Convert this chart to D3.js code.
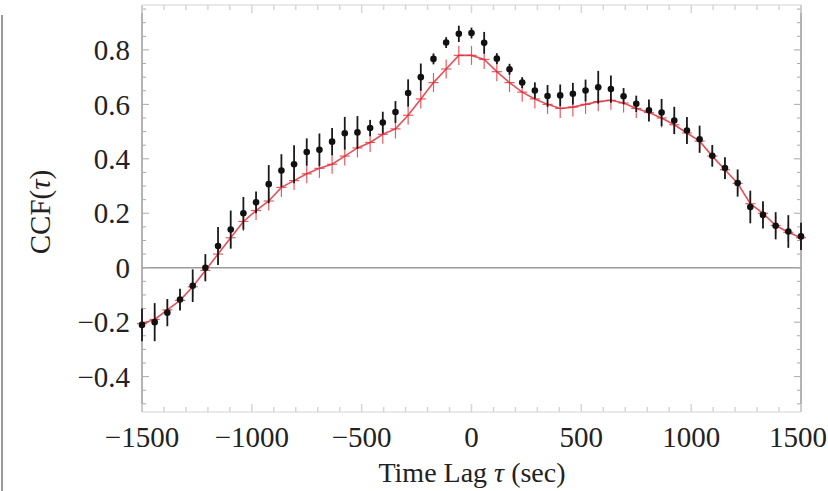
<!DOCTYPE html>
<html><head><meta charset="utf-8">
<script src="https://cdn.jsdelivr.net/npm/d3@7"></script>
<style>body{margin:0;background:#fff}svg{display:block}</style>
</head><body>
<svg id="c" width="828" height="491"></svg>
<script>
// lag grid: 53 points from -1500 to 1500
const lags = d3.range(53).map(k => -1500 + k * 3000 / 52);
const blackCCF = [-0.21,-0.20,-0.165,-0.117,-0.066,0.0,0.08,0.14,0.20,0.24,0.307,0.357,0.38,0.425,0.433,0.463,0.494,0.497,0.513,0.533,0.572,0.642,0.70,0.767,0.827,0.859,0.862,0.826,0.768,0.729,0.68,0.651,0.631,0.633,0.639,0.651,0.663,0.656,0.63,0.602,0.578,0.57,0.541,0.504,0.472,0.411,0.366,0.311,0.223,0.194,0.154,0.133,0.115];
const blackErr = [0.06,0.07,0.05,0.04,0.06,0.05,0.07,0.07,0.06,0.04,0.07,0.06,0.07,0.05,0.06,0.05,0.06,0.06,0.03,0.04,0.04,0.05,0.05,0.02,0.02,0.03,0.02,0.04,0.02,0.02,0.02,0.03,0.04,0.04,0.04,0.04,0.06,0.05,0.03,0.03,0.04,0.05,0.05,0.05,0.05,0.04,0.04,0.05,0.06,0.05,0.05,0.06,0.05];
const redCCF = [-0.205,-0.19,-0.155,-0.12,-0.07,-0.01,0.05,0.11,0.17,0.21,0.245,0.295,0.32,0.345,0.365,0.38,0.41,0.44,0.46,0.49,0.51,0.56,0.62,0.68,0.73,0.78,0.78,0.765,0.72,0.68,0.645,0.62,0.60,0.585,0.59,0.60,0.61,0.615,0.605,0.585,0.57,0.55,0.525,0.495,0.465,0.41,0.36,0.31,0.235,0.20,0.155,0.13,0.11];
const redErr = [0.035,0.035,0.035,0.035,0.035,0.035,0.035,0.035,0.035,0.035,0.035,0.035,0.035,0.035,0.035,0.035,0.035,0.035,0.035,0.035,0.035,0.035,0.035,0.035,0.035,0.035,0.035,0.035,0.035,0.035,0.035,0.035,0.035,0.035,0.035,0.035,0.035,0.035,0.035,0.035,0.035,0.035,0.035,0.035,0.035,0.035,0.035,0.035,0.035,0.035,0.035,0.035,0.035];
const xTicks = [-1500,-1000,-500,0,500,1000,1500];
const xTickLabels = ["\u22121500","\u22121000","\u2212500","0","500","1000","1500"];
const yTicks = [-0.4,-0.2,0,0.2,0.4,0.6,0.8];
const yTickLabels = ["\u22120.4","\u22120.2","0","0.2","0.4","0.6","0.8"];
const xTitleParts = ["Time Lag ", "\u03c4", " (sec)"];
const yTitleParts = ["CCF(", "\u03c4", ")"];

const svg = d3.select("#c");
const L = 142, R = 801, T = 5, B = 412;
const x = d3.scaleLinear().domain([-1500, 1500]).range([L, R]);
const y = d3.scaleLinear().domain([-0.53, 0.965]).range([B, T]);
const font = "'Liberation Serif','DejaVu Serif',serif";

// stray border line at far left
svg.append("line").attr("x1",2).attr("x2",2).attr("y1",15).attr("y2",491).attr("stroke","#777").attr("stroke-width",1.5);

const frame = svg.append("g");
[T, B].forEach(yy => frame.append("line").attr("x1",L).attr("x2",R).attr("y1",yy).attr("y2",yy).attr("stroke","#e2e2e2").attr("stroke-width",1.5));
[L, R].forEach(xx => frame.append("line").attr("x1",xx).attr("x2",xx).attr("y1",T).attr("y2",B).attr("stroke","#9a9a9a").attr("stroke-width",1.5));
frame.append("line").attr("x1",L).attr("x2",R).attr("y1",y(0)).attr("y2",y(0)).attr("stroke","#9a9a9a").attr("stroke-width",1.5);

const yMinor = d3.range(-0.5, 0.96, 0.05);
yMinor.forEach(v => {
  const major = Math.abs(Math.round(v*5) - v*5) < 1e-6;
  const len = major ? 7 : 4;
  frame.append("line").attr("x1",L).attr("x2",L+len).attr("y1",y(v)).attr("y2",y(v)).attr("stroke","#aaa").attr("stroke-width",1);
  frame.append("line").attr("x1",R).attr("x2",R-len).attr("y1",y(v)).attr("y2",y(v)).attr("stroke","#aaa").attr("stroke-width",1);
});
d3.range(-1500, 1501, 100).forEach(v => {
  const major = v % 500 === 0;
  const len = major ? 8 : 5;
  frame.append("line").attr("x1",x(v)).attr("x2",x(v)).attr("y1",B).attr("y2",B-len).attr("stroke","#d6d6d6").attr("stroke-width",1.5);
  frame.append("line").attr("x1",x(v)).attr("x2",x(v)).attr("y1",T).attr("y2",T+len).attr("stroke","#d6d6d6").attr("stroke-width",1.5);
});

svg.append("g").selectAll("text").data(yTicks).join("text")
  .attr("x", 130).attr("y", d => y(d)).attr("dy","0.35em")
  .attr("text-anchor","end").attr("font-family",font).attr("font-size",29).attr("fill","#222")
  .text((d,i) => yTickLabels[i]);
svg.append("g").selectAll("text").data(xTicks).join("text")
  .attr("x", (d,i) => i === xTicks.length - 1 ? 827 : x(d)).attr("y", 437).attr("dy","0.35em")
  .attr("text-anchor", (d,i) => i === xTicks.length - 1 ? "end" : "middle")
  .attr("font-family",font).attr("font-size",29).attr("fill","#222")
  .text((d,i) => xTickLabels[i]);

const xt = svg.append("text").attr("x", 472).attr("y", 472).attr("dy","0.35em").attr("text-anchor","middle")
  .attr("font-family",font).attr("font-size",28).attr("fill","#222");
xTitleParts.forEach((s,i) => xt.append("tspan").attr("font-style", i === 1 ? "italic" : "normal").text(s));
const yt = svg.append("text").attr("transform","translate(40,212) rotate(-90)").attr("dy","0.35em").attr("text-anchor","middle")
  .attr("font-family",font).attr("font-size",29).attr("fill","#222");
yTitleParts.forEach((s,i) => yt.append("tspan").attr("font-style", i === 1 ? "italic" : "normal").text(s));

const data = lags.map((t,i) => ({t, b: blackCCF[i], be: blackErr[i], r: redCCF[i], re: redErr[i]}));
const half = 3000/52/2;

const red = svg.append("g").attr("stroke","#e0303a").attr("fill","none");
red.append("path").attr("d", d3.line().x(d => x(d.t)).y(d => y(d.r))(data)).attr("stroke-width",1.6).attr("opacity",0.85);
red.selectAll(".rv").data(data).join("line").attr("class","rv")
  .attr("x1", d => x(d.t)).attr("x2", d => x(d.t)).attr("y1", d => y(d.r - d.re)).attr("y2", d => y(d.r + d.re))
  .attr("stroke-width",1.2).attr("opacity",0.8);
red.selectAll(".rh").data(data).join("line").attr("class","rh")
  .attr("x1", d => x(d.t - half*0.8)).attr("x2", d => x(d.t + half*0.8)).attr("y1", d => y(d.r)).attr("y2", d => y(d.r))
  .attr("stroke-width",1.2).attr("opacity",0.8);

const blk = svg.append("g");
blk.selectAll(".bv").data(data).join("line").attr("class","bv")
  .attr("x1", d => x(d.t)).attr("x2", d => x(d.t)).attr("y1", d => y(d.b - d.be)).attr("y2", d => y(d.b + d.be))
  .attr("stroke","#1a1a1a").attr("stroke-width",1.8);
blk.selectAll(".bp").data(data).join("circle").attr("class","bp")
  .attr("cx", d => x(d.t)).attr("cy", d => y(d.b)).attr("r",3.3)
  .attr("fill","#111");
</script>
</body></html>
